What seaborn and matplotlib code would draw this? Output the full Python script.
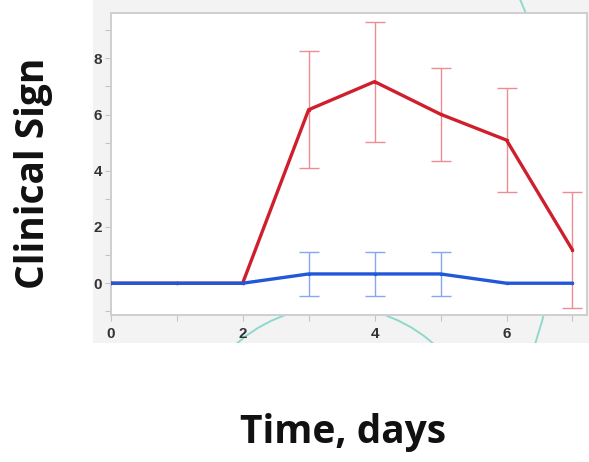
import matplotlib
matplotlib.use("Agg")
import matplotlib.pyplot as plt
from matplotlib.patches import Rectangle, Ellipse
from matplotlib.ticker import MultipleLocator
import pandas as pd
import seaborn as sns

# Mean clinical sign score per day with error half-widths
days = [0, 1, 2, 3, 4, 5, 6, 7]
series_a_mean = [0, 0, 0, 6.17, 7.17, 6.01, 5.09, 1.18]
series_a_err = [0, 0, 0, 2.08, 2.13, 1.66, 1.84, 2.05]
series_b_mean = [0, 0, 0, 0.33, 0.33, 0.33, 0, 0]
series_b_err = [0, 0, 0, 0.78, 0.78, 0.78, 0, 0]

y_ticks = [0, 2, 4, 6, 8]
x_ticks = [0, 2, 4, 6]

RED = "#cf1f2c"
RED_ERR = "#ec8c93"
BLUE = "#2157d9"
BLUE_ERR = "#86a6ef"

W, H = 589, 462
sns.set_theme(style="white")
fig = plt.figure(figsize=(W / 100, H / 100), dpi=100)
fig.patch.set_facecolor("white")


def fx(px):
    return px / W


def fy(py):
    return 1 - py / H


# grey panel behind the plot
panel = Rectangle((fx(93), fy(343)), 1 - fx(93), 1 - fy(343),
                  transform=fig.transFigure, facecolor="#f3f3f3",
                  edgecolor="none", zorder=-3)
fig.add_artist(panel)

# decorative teal rings, visible only on the grey panel
for cx, cy, r in [(335, 455.5, 149), (72.6, 191.4, 487)]:
    ring = Ellipse((fx(cx), fy(cy)), 2 * r / W, 2 * r / H,
                   transform=fig.transFigure, facecolor="none",
                   edgecolor="#8ed9cc", linewidth=1.4, zorder=-2)
    fig.add_artist(ring)
    ring.set_clip_path(panel)

ax = fig.add_axes([fx(110.7), fy(315), fx(587) - fx(110.7), fy(13.3) - fy(315)])
ax.set_facecolor("white")

df = pd.DataFrame({
    "day": days * 2,
    "score": series_a_mean + series_b_mean,
    "group": ["a"] * len(days) + ["b"] * len(days),
})

sns.lineplot(data=df, x="day", y="score", hue="group",
             palette={"a": RED, "b": BLUE}, linewidth=2.4,
             marker="o", markersize=2.5, markeredgewidth=0,
             legend=False, ax=ax, zorder=3)

for mean, err, col in [(series_a_mean, series_a_err, RED_ERR),
                       (series_b_mean, series_b_err, BLUE_ERR)]:
    sel = [i for i, e in enumerate(err) if e > 0]
    ax.errorbar([days[i] for i in sel], [mean[i] for i in sel],
                yerr=[err[i] for i in sel], fmt="none", ecolor=col,
                elinewidth=1.0, capsize=7, capthick=1.0, zorder=2)

ax.set_xlim(0, 7.22)
ax.set_ylim(-1.13, 9.6)
ax.set_xticks(x_ticks)
ax.set_yticks(y_ticks)
ax.xaxis.set_minor_locator(MultipleLocator(1))
ax.yaxis.set_minor_locator(MultipleLocator(1))
ax.tick_params(axis="both", which="both", direction="out", length=4,
               width=0.8, color="#c4c4c4", labelsize=11,
               labelcolor="#333333", bottom=True, left=True)
ax.tick_params(axis="x", pad=5)
ax.tick_params(axis="y", pad=2)
for lab in ax.get_xticklabels() + ax.get_yticklabels():
    lab.set_fontweight("bold")
    lab.set_family("Liberation Sans")
ax.set_xlabel("")
ax.set_ylabel("")
for s in ax.spines.values():
    s.set_color("#cfcfcf")
    s.set_linewidth(1.4)

fig.text(fx(34), fy(173), "Clinical Sign", rotation=90, ha="center",
         va="center", fontsize=28, fontweight="bold", family="Open Sans",
         color="#111111")
fig.text(fx(343), fy(433), "Time, days", ha="center", va="center",
         fontsize=28, fontweight="bold", family="Open Sans", color="#111111")

fig.savefig("out.png", dpi=100)
